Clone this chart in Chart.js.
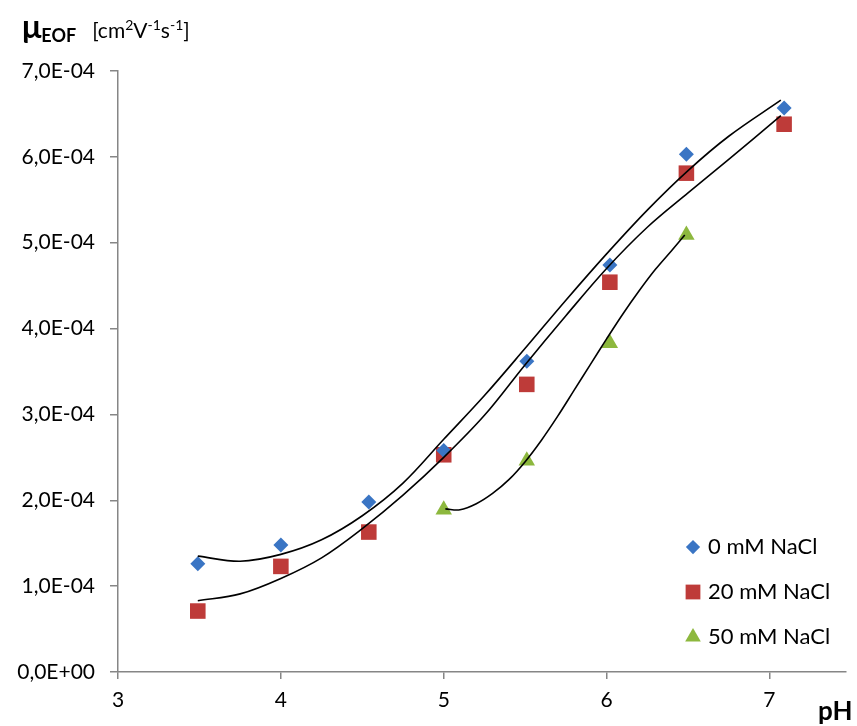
<!DOCTYPE html>
<html>
<head>
<meta charset="utf-8">
<script src="https://cdn.jsdelivr.net/npm/chart.js@4/dist/chart.umd.min.js"></script>
<style>
  html, body { margin: 0; padding: 0; background: #fff; }
  #wrap { position: relative; width: 857px; height: 726px; }
  canvas { position: absolute; left: 0; top: 0; }
  .lbl { position: absolute; font-family: Lato, "Open Sans", sans-serif; color: #000; white-space: nowrap; }
  #ytitle { left: 22px; top: 6px; }
  #ytitle .mu { font-size: 32px; font-weight: bold; }
  #ytitle .eof { font-size: 18px; font-weight: bold; position: relative; top: 4px; }
  #ytitle .unit { font-size: 21px; margin-left: 16px; }
  #ytitle sup { font-size: 14px; }
  #xtitle { left: 818px; top: 694px; font-size: 26px; font-weight: bold; }
</style>
</head>
<body>
<div id="wrap">
  <canvas id="c" width="857" height="726"></canvas>
  <div id="ytitle" class="lbl"><span class="mu">μ</span><span class="eof">EOF</span><span class="unit">[cm<sup>2</sup>V<sup>-1</sup>s<sup>-1</sup>]</span></div>
  <div id="xtitle" class="lbl">pH</div>
</div>
<script>
// ---- data ----
const seriesNames = ['0 mM NaCl', '20 mM NaCl', '50 mM NaCl'];
const pH0  = [3.49, 4.00, 4.54, 5.00, 5.51, 6.02, 6.49, 7.09];
const mu0  = [1.26e-4, 1.48e-4, 1.98e-4, 2.58e-4, 3.62e-4, 4.74e-4, 6.03e-4, 6.57e-4];
const pH20 = [3.49, 4.00, 4.54, 5.00, 5.51, 6.02, 6.49, 7.09];
const mu20 = [0.71e-4, 1.23e-4, 1.63e-4, 2.53e-4, 3.35e-4, 4.54e-4, 5.81e-4, 6.38e-4];
const pH50 = [5.00, 5.51, 6.02, 6.49];
const mu50 = [1.89e-4, 2.46e-4, 3.83e-4, 5.09e-4];

// trendlines
const trend0X = [3.49, 3.75, 4.0, 4.25, 4.5, 4.75, 5.0, 5.25, 5.5, 5.75, 6.0, 6.25, 6.5, 6.75, 7.07];
const trend0Y = [1.35e-4, 1.29e-4, 1.37e-4, 1.54e-4, 1.82e-4, 2.20e-4, 2.71e-4, 3.22e-4, 3.77e-4, 4.33e-4, 4.87e-4, 5.38e-4, 5.84e-4, 6.24e-4, 6.66e-4];
const trend20X = [3.49, 3.75, 4.0, 4.25, 4.5, 4.75, 5.0, 5.25, 5.5, 5.75, 6.0, 6.25, 6.5, 6.75, 7.07];
const trend20Y = [0.83e-4, 0.91e-4, 1.09e-4, 1.33e-4, 1.67e-4, 2.06e-4, 2.50e-4, 2.99e-4, 3.58e-4, 4.15e-4, 4.70e-4, 5.18e-4, 5.58e-4, 5.97e-4, 6.48e-4];
const trend50X = [5.01, 5.1, 5.2, 5.3, 5.4, 5.5, 5.6, 5.7, 5.8, 5.9, 6.0, 6.1, 6.2, 6.3, 6.4, 6.48];
const trend50Y = [1.90e-4, 1.89e-4, 1.96e-4, 2.08e-4, 2.24e-4, 2.45e-4, 2.70e-4, 2.98e-4, 3.28e-4, 3.58e-4, 3.88e-4, 4.17e-4, 4.44e-4, 4.69e-4, 4.91e-4, 5.09e-4];

const xTicks = [3, 4, 5, 6, 7];
const yTicks = [0, 1e-4, 2e-4, 3e-4, 4e-4, 5e-4, 6e-4, 7e-4];

// ---- styles ----
const colors = ['#3A75C4', '#BE3B39', '#8DB83E'];
const styles = ['rectRot', 'rect', 'triangle'];
const radii = [7.5, 11, 9.5];
const FONT = 'Lato, "Open Sans", sans-serif';

const pts = (xs, ys) => xs.map((x, i) => ({ x: x, y: ys[i] }));
const fmt = v => {
  const [m, e] = Number(v).toExponential(1).split('e');
  const n = parseInt(e, 10);
  return m.replace('.', ',') + 'E' + (n < 0 ? '-' : '+') + String(Math.abs(n)).padStart(2, '0');
};

const markerSets = [[pH0, mu0], [pH20, mu20], [pH50, mu50]].map((d, i) => ({
  label: seriesNames[i],
  data: pts(d[0], d[1]),
  showLine: false,
  pointStyle: styles[i],
  pointRadius: radii[i],
  pointHoverRadius: radii[i],
  backgroundColor: colors[i],
  borderColor: colors[i],
  borderWidth: 0,
  order: 2
}));
const trendSets = [[trend0X, trend0Y], [trend20X, trend20Y], [trend50X, trend50Y]].map((d, i) => ({
  label: 'trend ' + seriesNames[i],
  data: pts(d[0], d[1]),
  showLine: true,
  tension: 0.35,
  pointRadius: 0,
  borderColor: '#000',
  borderWidth: 1.6,
  fill: false,
  order: 1
}));

const legendPlugin = {
  id: 'customLegend',
  afterDraw(chart) {
    const ctx = chart.ctx;
    ctx.save();
    const mx = 693, tx = 708, ys = [547, 592, 637];
    seriesNames.forEach((name, i) => {
      ctx.fillStyle = colors[i];
      ctx.strokeStyle = colors[i];
      ctx.lineWidth = 0;
      Chart.helpers.drawPoint(ctx, { pointStyle: styles[i], radius: radii[i] * 0.95, rotation: 0, borderWidth: 0 }, mx, ys[i]);
      ctx.fillStyle = '#000';
      ctx.font = '22px ' + FONT;
      ctx.textBaseline = 'middle';
      ctx.textAlign = 'left';
      ctx.fillText(name, tx, ys[i]);
    });
    ctx.restore();
  }
};

const zeroPad = () => ({ left: 0, top: 0, right: 0, bottom: 0 });

new Chart(document.getElementById('c'), {
  type: 'scatter',
  data: { datasets: [...markerSets, ...trendSets] },
  plugins: [legendPlugin],
  options: {
    responsive: false,
    animation: false,
    events: [],
    layout: { padding: { left: 0, right: 6, top: 71, bottom: 0 } },
    plugins: { legend: { display: false }, tooltip: { enabled: false } },
    scales: {
      x: {
        type: 'linear', min: 3, max: 7.47,
        afterBuildTicks: s => { s.ticks = xTicks.map(v => ({ value: v })); },
        afterFit: s => { s.height = 54; s.getPadding = zeroPad; },
        ticks: { color: '#000', font: { family: FONT, size: 21 }, padding: 9, maxRotation: 0, callback: v => String(v) },
        grid: { drawOnChartArea: false, drawTicks: true, tickLength: 7, color: '#868686', lineWidth: 1.5 },
        border: { display: true, color: '#868686', width: 1.5 }
      },
      y: {
        type: 'linear', min: 0, max: 7e-4,
        afterBuildTicks: s => { s.ticks = yTicks.map(v => ({ value: v })); },
        afterFit: s => { s.width = 118; },
        ticks: { color: '#000', font: { family: FONT, size: 21 }, padding: 15, callback: v => fmt(v) },
        grid: { drawOnChartArea: false, drawTicks: true, tickLength: 8, color: '#868686', lineWidth: 1.5 },
        border: { display: true, color: '#868686', width: 1.5 }
      }
    }
  }
});
</script>
</body>
</html>
